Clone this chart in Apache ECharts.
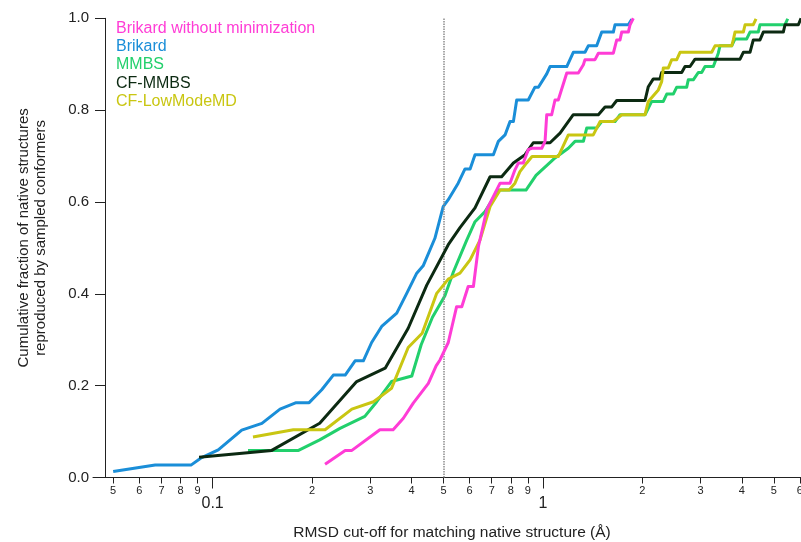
<!DOCTYPE html>
<html><head><meta charset="utf-8">
<script src="https://cdn.jsdelivr.net/npm/echarts@6/dist/echarts.min.js"></script>
<style>html,body{margin:0;padding:0;background:#fff}#c{width:801px;height:542px}</style>
</head><body><div id="c"></div>
<script>
const seriesNames = ['Brikard without minimization', 'Brikard', 'MMBS', 'CF-MMBS', 'CF-LowModeMD'];
const seriesColors = ['#ff3cd6', '#1a8ed8', '#22d06c', '#0c2a12', '#c9c612'];

const brikardNoMin = [[0.219,0.029],[0.252,0.059],[0.264,0.059],[0.321,0.104],[0.352,0.104],[0.378,0.129],[0.405,0.162],[0.450,0.205],[0.475,0.243],[0.488,0.256],[0.517,0.294],[0.548,0.372],[0.568,0.372],[0.594,0.416],[0.616,0.416],[0.638,0.503],[0.676,0.583],[0.742,0.641],[0.795,0.641],[0.823,0.670],[0.843,0.685],[0.872,0.685],[0.903,0.714],[0.925,0.717],[0.992,0.717],[1.015,0.732],[1.027,0.790],[1.063,0.790],[1.088,0.822],[1.113,0.822],[1.181,0.881],[1.280,0.881],[1.326,0.899],[1.341,0.910],[1.438,0.910],[1.472,0.924],[1.634,0.924],[1.673,0.953],[1.712,0.953],[1.732,0.970],[1.814,0.970],[1.836,0.986],[1.878,1.0]];

const brikard = [[0.050,0.013],[0.067,0.027],[0.086,0.027],[0.092,0.042],[0.104,0.060],[0.1225,0.103],[0.141,0.118],[0.160,0.149],[0.179,0.163],[0.196,0.163],[0.214,0.191],[0.232,0.223],[0.252,0.223],[0.270,0.254],[0.286,0.254],[0.303,0.294],[0.325,0.329],[0.361,0.358],[0.387,0.401],[0.415,0.445],[0.434,0.461],[0.471,0.521],[0.499,0.590],[0.517,0.605],[0.554,0.641],[0.581,0.672],[0.602,0.672],[0.623,0.703],[0.708,0.703],[0.733,0.732],[0.768,0.746],[0.795,0.775],[0.814,0.775],[0.833,0.822],[0.903,0.822],[0.946,0.850],[0.969,0.850],[1.027,0.879],[1.051,0.895],[1.181,0.895],[1.236,0.926],[1.341,0.926],[1.372,0.940],[1.455,0.940],[1.507,0.970],[1.634,0.970],[1.653,0.986],[1.814,0.986],[1.858,0.998]];

const mmbs = [[0.128,0.059],[0.182,0.059],[0.211,0.082],[0.243,0.107],[0.289,0.133],[0.314,0.165],[0.348,0.209],[0.401,0.221],[0.428,0.289],[0.463,0.349],[0.505,0.396],[0.536,0.448],[0.588,0.517],[0.623,0.557],[0.668,0.579],[0.733,0.626],[0.889,0.626],[0.953,0.658],[1.080,0.694],[1.194,0.717],[1.251,0.732],[1.326,0.732],[1.357,0.761],[1.455,0.761],[1.507,0.775],[1.653,0.775],[1.712,0.790],[2.038,0.790],[2.135,0.819],[2.315,0.819],[2.371,0.835],[2.482,0.835],[2.542,0.850],[2.725,0.850],[2.755,0.866],[2.853,0.866],[2.954,0.882],[3.025,0.882],[3.096,0.895],[3.281,0.895],[3.396,0.924],[3.437,0.940],[3.729,0.940],[3.816,0.955],[4.140,0.955],[4.236,0.970],[4.488,0.970],[4.542,0.986],[5.408,0.986],[5.510,0.999]];

const cfMmbs = [[0.091,0.044],[0.151,0.059],[0.211,0.118],[0.273,0.209],[0.333,0.238],[0.391,0.325],[0.445,0.419],[0.517,0.507],[0.561,0.544],[0.623,0.587],[0.692,0.655],[0.750,0.655],[0.814,0.685],[0.883,0.703],[0.935,0.729],[1.051,0.729],[1.127,0.750],[1.236,0.790],[1.472,0.790],[1.542,0.807],[1.616,0.807],[1.673,0.821],[2.038,0.821],[2.085,0.851],[2.159,0.868],[2.262,0.868],[2.289,0.882],[2.632,0.882],[2.693,0.895],[2.789,0.895],[2.888,0.911],[3.952,0.911],[4.044,0.926],[4.236,0.926],[4.335,0.953],[4.542,0.953],[4.648,0.970],[5.344,0.970],[5.408,0.986],[5.934,0.986],[6.046,1.0]];

const cfLowModeMD = [[0.1325,0.088],[0.1755,0.104],[0.219,0.104],[0.264,0.149],[0.307,0.165],[0.348,0.194],[0.391,0.283],[0.431,0.314],[0.477,0.401],[0.517,0.432],[0.561,0.445],[0.602,0.474],[0.645,0.517],[0.692,0.590],[0.742,0.626],[0.790,0.626],[0.823,0.641],[0.852,0.666],[0.893,0.685],[0.927,0.699],[1.113,0.699],[1.194,0.746],[1.421,0.746],[1.489,0.775],[1.634,0.775],[1.732,0.790],[2.038,0.790],[2.085,0.819],[2.236,0.844],[2.289,0.862],[2.315,0.892],[2.397,0.892],[2.455,0.910],[2.542,0.910],[2.601,0.926],[3.244,0.926],[3.319,0.940],[3.729,0.940],[3.771,0.953],[3.816,0.970],[4.044,0.970],[4.093,0.986],[4.335,0.986],[4.418,0.999]];

const minorTickValues = [0.05,0.06,0.07,0.08,0.09,0.2,0.3,0.4,0.5,0.6,0.7,0.8,0.9,2,3,4,5,6];
const minorTickLabels = ['5','6','7','8','9','2','3','4','5','6','7','8','9','2','3','4','5','6'];
const majorTickValues = [0.1, 1];
const majorTickLabels = ['0.1', '1'];
const markerX = 0.5;

const xMin = 0.04344, xMax = 6.045;
const FONT = '"Liberation Sans", Arial, sans-serif';
const AX = '#222';

function lookup(vals, labels, v) {
  for (let i = 0; i < vals.length; i++) if (Math.abs(vals[i] - v) < 1e-9 * Math.max(1, vals[i])) return labels[i];
  return '';
}

const dataBySeries = {
  'Brikard without minimization': brikardNoMin,
  'Brikard': brikard,
  'MMBS': mmbs,
  'CF-MMBS': cfMmbs,
  'CF-LowModeMD': cfLowModeMD
};
const drawOrder = ['Brikard', 'MMBS', 'CF-MMBS', 'CF-LowModeMD', 'Brikard without minimization'];

const series = drawOrder.map((name, k) => {
  const s = {
    name: name, type: 'line', data: dataBySeries[name],
    xAxisIndex: 0, yAxisIndex: 0,
    showSymbol: false, symbol: 'none', clip: true,
    lineStyle: { width: 3, color: seriesColors[seriesNames.indexOf(name)], join: 'round' },
    itemStyle: { color: seriesColors[seriesNames.indexOf(name)] },
    z: 3 + k, animation: false
  };
  if (k === 0) {
    s.markLine = {
      silent: true, symbol: ['none', 'none'], animation: false,
      label: { show: false },
      lineStyle: { color: '#8c8c8c', type: [1.5, 1], width: 1.5 },
      data: [{ xAxis: markerX }]
    };
  }
  return s;
});

const chart = echarts.init(document.getElementById('c'), null, { renderer: 'canvas' });
chart.setOption({
  animation: false,
  backgroundColor: '#fff',
  textStyle: { fontFamily: FONT },
  grid: { left: 93, right: 0, top: 18.3, bottom: 64.5, containLabel: false, outerBoundsMode: 'none' },
  legend: {
    orient: 'vertical', left: 106, top: 14, icon: 'none',
    itemWidth: 0, itemHeight: 18.33, itemGap: 0, selectedMode: false,
    textStyle: { fontSize: 16, fontFamily: FONT, lineHeight: 18.33 },
    data: seriesNames.map((n, i) => ({ name: n, textStyle: { color: seriesColors[i] } }))
  },
  xAxis: [
    {
      type: 'log', logBase: 10, min: xMin, max: xMax, position: 'bottom',
      axisLine: { show: true, lineStyle: { color: AX, width: 1 } },
      axisTick: { show: true, inside: false, length: 6, customValues: minorTickValues, lineStyle: { color: AX } },
      minorTick: { show: false }, splitLine: { show: false },
      axisLabel: {
        show: true, customValues: minorTickValues, margin: 8,
        fontSize: 11, color: '#222', fontFamily: FONT,
        formatter: v => lookup(minorTickValues, minorTickLabels, v)
      },
      name: 'RMSD cut-off for matching native structure (Å)',
      nameLocation: 'middle', nameGap: 47,
      nameTextStyle: { fontSize: 15.5, color: '#222', fontFamily: FONT, padding: [0, 0, 0, 10] }
    },
    {
      type: 'log', logBase: 10, min: xMin, max: xMax, position: 'bottom',
      axisLine: { show: false },
      axisTick: { show: true, inside: false, length: 11, customValues: majorTickValues, lineStyle: { color: AX } },
      splitLine: { show: false },
      axisLabel: {
        show: true, customValues: majorTickValues, margin: 18,
        fontSize: 16, color: '#222', fontFamily: FONT,
        formatter: v => lookup(majorTickValues, majorTickLabels, v)
      }
    }
  ],
  yAxis: {
    type: 'value', min: 0, max: 1, interval: 0.2, offset: -12,
    axisLine: { show: true, lineStyle: { color: AX, width: 1 } },
    axisTick: { show: true, inside: false, length: 10, lineStyle: { color: AX } },
    splitLine: { show: false },
    axisLabel: { margin: 16, fontSize: 15, color: '#222', fontFamily: FONT, formatter: v => v.toFixed(1) },
    name: 'Cumulative fraction of native structures\nreproduced by sampled conformers',
    nameLocation: 'middle', nameGap: 56,
    nameTextStyle: { fontSize: 15, lineHeight: 16.7, color: '#222', fontFamily: FONT, padding: [0, 0, 0, 20] }
  },
  series: series
});
</script>
</body></html>
